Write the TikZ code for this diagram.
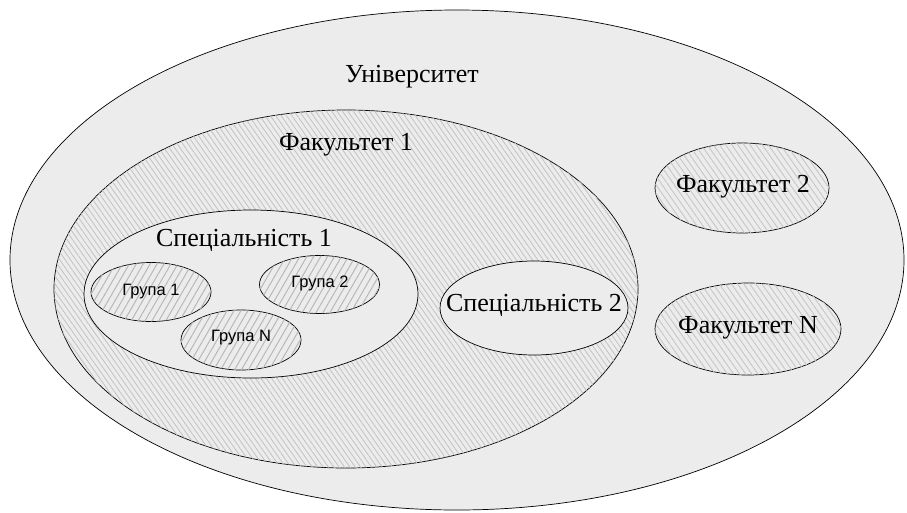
\documentclass[tikz,border=0pt]{standalone}
\usepackage{fontspec}
\setmainfont{Liberation Serif}
\newfontfamily\gsans{Liberation Sans}
\usetikzlibrary{patterns.meta}
\definecolor{bg}{HTML}{ECECEC}
\tikzset{
  outline/.style={draw=black, line width=0.7pt},
  plain/.style={outline, fill=bg},
  hatchA/.style={outline, fill=bg, postaction={pattern={Lines[angle=-55,distance=4.4pt,line width=0.8pt]}, pattern color=black!24}},
  hatchB/.style={outline, fill=bg, postaction={pattern={Lines[angle=60,distance=6pt,line width=1pt]}, pattern color=black!28}},
  hatchC/.style={outline, fill=bg, postaction={pattern={Lines[angle=-55,distance=5pt,line width=0.9pt]}, pattern color=black!22}},
  big/.style={font=\fontsize{26}{30}\selectfont},
  small/.style={font=\gsans\fontsize{16.5}{20}\selectfont},
}
\begin{document}
\begin{tikzpicture}[x=1pt,y=-1pt]
\useasboundingbox (0,0) rectangle (907,512);
\fill[white] (0,0) rectangle (907,512);
% university
\path[plain] (457,260) ellipse [x radius=447, y radius=250];
% faculty 1
\path[hatchA] (346,289) ellipse [x radius=292, y radius=179];
% speciality 1
\path[plain] (251,294) ellipse [x radius=167, y radius=84];
% groups
\path[hatchB] (151,292) ellipse [x radius=60, y radius=29.5];
\path[hatchB] (319.5,284.5) ellipse [x radius=60, y radius=29];
\path[hatchB] (241,340) ellipse [x radius=60, y radius=30];
% speciality 2
\path[plain] (534,308) ellipse [x radius=94, y radius=47];
% faculty 2, N
\path[hatchC] (742,188) ellipse [x radius=87, y radius=45];
\path[hatchC] (748,329) ellipse [x radius=93, y radius=46];
% labels
\node[big] (u) at (412,77) {Університет};
\node[big] (f1) at (346,145) {Факультет 1};
\node[big] (s1) at (244,240) {Спеціальність 1};
\node[big] (s2) at (534,305) {Спеціальність 2};
\node[big] (f2) at (743,187) {Факультет 2};
\node[big] (fn) at (748,328) {Факультет N};
\node[small] (g1) at (151,292) {Група 1};
\node[small] (g2) at (320,283) {Група 2};
\node[small] (gn) at (241,338) {Група N};
\end{tikzpicture}
\end{document}
